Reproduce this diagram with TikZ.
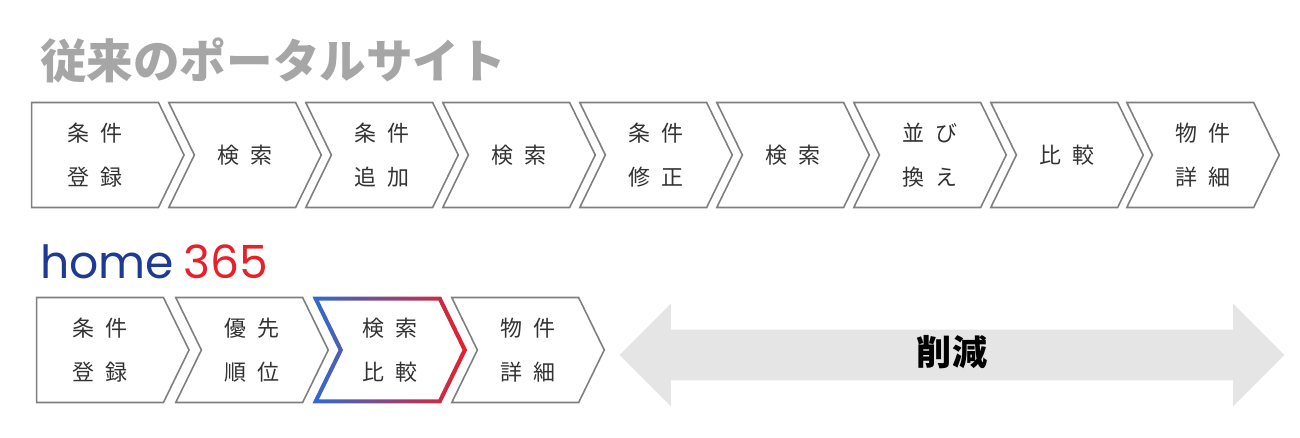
\documentclass[tikz,border=0pt]{standalone}
\usepackage{fontspec}
\setmainfont{Noto Sans CJK JP}
\newfontfamily\logofont{Poppins}
\usetikzlibrary{positioning,shapes.symbols,shapes.arrows}
\definecolor{txtgray}{HTML}{333333}
\definecolor{linegray}{HTML}{7F7F7F}
\definecolor{logoblue}{HTML}{1F3A93}
\definecolor{logored}{HTML}{E8202A}
\definecolor{gradblue}{HTML}{2F6BD0}
\begin{document}
\begin{tikzpicture}[x=0.02cm,y=-0.02cm]
    \tikzstyle{chev} = [signal, signal to=east, signal from=west, signal pointer angle=128, draw=linegray, line width=0.9pt, fill=white, minimum width=3.05cm, minimum height=2.1cm, inner sep=0pt, text=txtgray, font=\fontsize{12.5}{25}\selectfont, align=center]
    \tikzstyle{firstchev} = [chev, signal from=nowhere]
    \useasboundingbox (0,0) rectangle (1300,437);

    % Title
    \node[anchor=west, text=black!35, font=\fontsize{26.5}{27}\bfseries\selectfont] (title) at (34,60) {従来のポータルサイト};

    % Old flow
    \node[firstchev] (o1) at (95,155) {条\enspace 件\\登\enspace 録};
    \node[chev] (o2) at (245,155) {検\enspace 索};
    \node[chev] (o3) at (382,155) {条\enspace 件\\追\enspace 加};
    \node[chev] (o4) at (519,155) {検\enspace 索};
    \node[chev] (o5) at (656,155) {条\enspace 件\\修\enspace 正};
    \node[chev] (o6) at (793,155) {検\enspace 索};
    \node[chev] (o7) at (930,155) {並\enspace び\\換\enspace え};
    \node[chev] (o8) at (1067,155) {比\enspace 較};
    \node[chev] (o9) at (1203,155) {物\enspace 件\\詳\enspace 細};

    % Logo
    \node[anchor=west, inner sep=0pt, font=\fontsize{26}{26}\logofont\selectfont] (logo) at (40,262) {\textcolor{logoblue}{home}\hspace{0.2em}\textcolor{logored}{365}};

    % New flow
    \node[firstchev] (n1) at (100,350) {条\enspace 件\\登\enspace 録};
    \node[chev] (n2) at (252,350) {優\enspace 先\\順\enspace 位};
    \node[chev, draw=none, fill=none] (n3) at (390,350) {検\enspace 索\\比\enspace 較};
    \node[chev] (n4) at (528,350) {物\enspace 件\\詳\enspace 細};
    \shade[left color=gradblue, right color=logored, even odd rule]
        (n3.north west) -- (n3.north east) -- (n3.east) -- (n3.south east) -- (n3.south west) -- (n3.west) -- cycle
        ([shift={(6.4,4)}]n3.north west) -- ([shift={(-2.6,4)}]n3.north east) -- ([shift={(-4.6,0)}]n3.east) -- ([shift={(-2.6,-4)}]n3.south east) -- ([shift={(6.4,-4)}]n3.south west) -- ([shift={(4.6,0)}]n3.west) -- cycle;

    % Reduction arrow
    \node[double arrow, fill=black!10, text height=0.5cm, text depth=0.1cm, inner ysep=0.2cm, inner xsep=0pt, double arrow head extend=0.52cm, minimum height=13.3cm, font=\fontsize{20}{20}\bfseries\selectfont] (cut) at (952,355) {削減};
\end{tikzpicture}
\end{document}
